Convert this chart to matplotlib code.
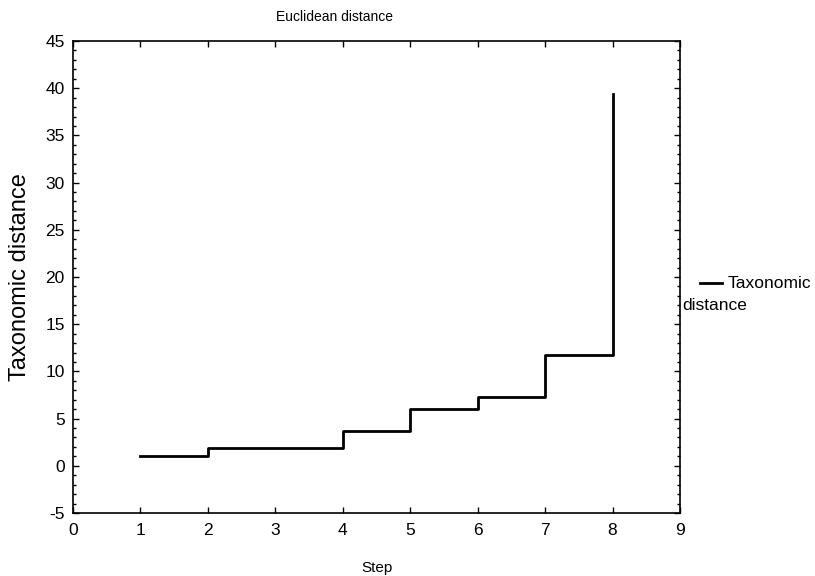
import matplotlib.pyplot as plt
from matplotlib.lines import Line2D
from matplotlib.ticker import MultipleLocator

plt.rcParams['font.family'] = ['Liberation Sans', 'DejaVu Sans']
plt.rcParams['axes.unicode_minus'] = False

# Taxonomic distance at each agglomeration step
steps = [1, 2, 3, 4, 5, 6, 7, 8]
distance = [1.0, 1.9, 1.9, 3.7, 6.0, 7.3, 11.7, 39.4]

fig = plt.figure(figsize=(8.15, 5.76), dpi=100)
ax = fig.add_axes([73/815, 1 - 513/576, (680-73)/815, (513-41)/576])

ax.step(steps, distance, where='post', color='black', linewidth=2)

ax.set_xlim(0, 9)
ax.set_ylim(-5, 45)
ax.xaxis.set_major_locator(MultipleLocator(1))
ax.yaxis.set_major_locator(MultipleLocator(5))
ax.yaxis.set_minor_locator(MultipleLocator(1))
ax.tick_params(which='both', direction='in', top=True, right=True, labelsize=12.5, width=1)
ax.tick_params(which='major', length=4)
ax.tick_params(which='minor', length=2)
ax.tick_params(axis='x', which='minor', bottom=False, top=False)
ax.tick_params(axis='x', pad=7)
ax.tick_params(axis='y', pad=6)
for s in ax.spines.values():
    s.set_linewidth(1.2)

ax.set_xlabel('Step', fontsize=11, labelpad=17)
ax.set_ylabel('Taxonomic distance', fontsize=17, labelpad=10)
fig.text(335/815, 1 - 17/576, 'Euclidean distance', fontsize=10, ha='center', va='center')

# legend drawn by hand so the label wraps under the sample line
fig.add_artist(Line2D([700/815, 722/815], [1 - 283/576, 1 - 283/576], color='black', linewidth=2))
fig.text(728/815, 1 - 283/576, 'Taxonomic', fontsize=12.5, ha='left', va='center')
fig.text(682/815, 1 - 305/576, 'distance', fontsize=12.5, ha='left', va='center')

fig.savefig('out.png', dpi=100)
